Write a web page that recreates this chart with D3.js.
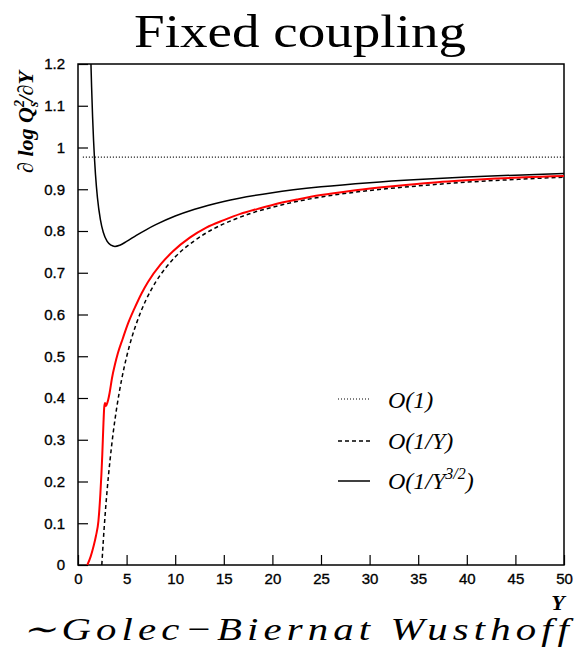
<!DOCTYPE html>
<html>
<head>
<meta charset="utf-8">
<script src="https://cdn.jsdelivr.net/npm/d3@7"></script>
<style>
  html, body { margin: 0; padding: 0; background: #fff; }
  svg { display: block; }
</style>
</head>
<body>
<svg id="chart" width="579" height="648"></svg>
<script>
// Axis ticks
const xTicks = [0, 5, 10, 15, 20, 25, 30, 35, 40, 45, 50];
const yTicks = [0, 0.1, 0.2, 0.3, 0.4, 0.5, 0.6, 0.7, 0.8, 0.9, 1, 1.1, 1.2];
const yTickLabels = ["0", "0.1", "0.2", "0.3", "0.4", "0.5", "0.6", "0.7", "0.8", "0.9", "1", "1.1", "1.2"];

// Leading-order speed O(1)
const loY = [0.5, 50];
const loVal = [0.977, 0.977];

// Next-to-leading order O(1/Y)
const nloY = [2.45, 2.6, 2.8, 3.0, 3.3, 3.6, 4.0, 4.5, 5, 5.5, 6, 7, 8, 9, 10, 12, 14, 16, 18, 20, 23, 26, 30, 35, 40, 45, 50];
const nloVal = [0.0, 0.057, 0.123, 0.180, 0.252, 0.313, 0.379, 0.4455, 0.4986, 0.542, 0.578, 0.635, 0.678, 0.711, 0.738, 0.777, 0.806, 0.827, 0.844, 0.857, 0.873, 0.885, 0.897, 0.908, 0.917, 0.9235, 0.929];

// Next-to-next-to-leading order O(1/Y^{3/2})
const nnloY = [1.333, 1.4, 1.5, 1.6, 1.8, 2.0, 2.3, 2.6, 3.0, 3.4, 3.8, 4.3, 5, 6, 7, 8, 10, 12, 15, 20, 25, 30, 35, 40, 45, 50];
const nnloVal = [1.2, 1.1445, 1.074, 1.0175, 0.935, 0.880, 0.828, 0.797, 0.775, 0.766, 0.763, 0.766, 0.775, 0.7896, 0.8029, 0.8151, 0.8358, 0.8521, 0.8708, 0.8918, 0.9058, 0.9158, 0.9233, 0.9291, 0.9338, 0.9376];

// Numerical solution (Golec-Biernat Wusthoff initial condition)
const numY = [0.96, 1.3, 1.6, 1.85, 2.1, 2.3, 2.5, 2.62, 2.7, 2.78, 2.86, 2.95, 3.1, 3.25, 3.5, 3.8, 4.1, 4.6, 5.14, 5.8, 6.55, 7.2, 8.5, 9.8, 11.5, 13.2, 15, 16.7, 18.5, 20.1, 22.7, 25, 28, 31, 34, 37, 40, 43, 46, 50];
const numVal = [0.0, 0.02, 0.045, 0.07, 0.105, 0.17, 0.265, 0.34, 0.378, 0.388, 0.381, 0.384, 0.395, 0.412, 0.448, 0.48, 0.507, 0.542, 0.578, 0.614, 0.651, 0.678, 0.72, 0.752, 0.784, 0.808, 0.826, 0.841, 0.853, 0.863, 0.876, 0.886, 0.896, 0.904, 0.911, 0.917, 0.9215, 0.9255, 0.929, 0.932];

// Legend entries
const legendLabels = ["O(1)", "O(1/Y)", "O(1/Y"];

const svg = d3.select("#chart");
const plot = { left: 78, top: 64, right: 564, bottom: 565 };

const x = d3.scaleLinear().domain([0, 50]).range([plot.left, plot.right]);
const y = d3.scaleLinear().domain([0, 1.2]).range([plot.bottom, plot.top]);

svg.append("defs").append("clipPath").attr("id", "plotClip")
  .append("rect")
  .attr("x", plot.left).attr("y", plot.top)
  .attr("width", plot.right - plot.left).attr("height", plot.bottom - plot.top);

// Title
svg.append("text")
  .attr("x", 300).attr("y", 47)
  .attr("text-anchor", "middle")
  .attr("font-family", "Liberation Serif, serif")
  .attr("font-size", 46)
  .attr("textLength", 332)
  .attr("lengthAdjust", "spacingAndGlyphs")
  .text("Fixed coupling");

// Axes (ticks pointing inward)
const tickFont = "Liberation Sans, Arial, sans-serif";
const xAxis = d3.axisBottom(x).tickValues(xTicks).tickSize(-10).tickPadding(8).tickFormat(d3.format("d"));
const yAxis = d3.axisLeft(y).tickValues(yTicks).tickSize(-10).tickPadding(13)
  .tickFormat((d, i) => yTickLabels[i]);

const gx = svg.append("g").attr("transform", `translate(0,${plot.bottom})`).call(xAxis);
const gy = svg.append("g").attr("transform", `translate(${plot.left},0)`).call(yAxis);
[gx, gy].forEach(g => {
  g.select(".domain").remove();
  g.selectAll(".tick line").attr("stroke", "#000").attr("stroke-width", 1.2);
  g.selectAll(".tick text")
    .attr("fill", "#000")
    .attr("font-family", tickFont)
    .attr("font-size", 15)
    .attr("stroke", "#000").attr("stroke-width", 0.35);
});

// Frame
svg.append("rect")
  .attr("x", plot.left).attr("y", plot.top)
  .attr("width", plot.right - plot.left).attr("height", plot.bottom - plot.top)
  .attr("fill", "none").attr("stroke", "#000").attr("stroke-width", 1.5);

const line = d3.line().x(d => x(d[0])).y(d => y(d[1])).curve(d3.curveMonotoneX);
const zipped = (xs, ys) => xs.map((v, i) => [v, ys[i]]);

const curves = svg.append("g").attr("clip-path", "url(#plotClip)");

curves.append("path")
  .datum(zipped(loY, loVal))
  .attr("d", line)
  .attr("fill", "none").attr("stroke", "#000").attr("stroke-width", 1.1)
  .attr("stroke-dasharray", "1,2");

curves.append("path")
  .datum(zipped(nloY, nloVal))
  .attr("d", line)
  .attr("fill", "none").attr("stroke", "#000").attr("stroke-width", 1.5)
  .attr("stroke-dasharray", "4,3");

curves.append("path")
  .datum(zipped(numY, numVal))
  .attr("d", line)
  .attr("fill", "none").attr("stroke", "#ff0000").attr("stroke-width", 2);

curves.append("path")
  .datum(zipped(nnloY, nnloVal))
  .attr("d", line)
  .attr("fill", "none").attr("stroke", "#000").attr("stroke-width", 1.5);

// Legend
const legendRows = [
  { yLine: 399, yText: 408, dash: "1,2", w: 1.1 },
  { yLine: 441, yText: 449, dash: "4,3", w: 1.5 },
  { yLine: 481, yText: 489, dash: null, w: 1.5 }
];
const legend = svg.append("g");
legendRows.forEach((r, i) => {
  legend.append("line")
    .attr("x1", 338).attr("x2", 370)
    .attr("y1", r.yLine).attr("y2", r.yLine)
    .attr("stroke", "#000").attr("stroke-width", r.w)
    .attr("stroke-dasharray", r.dash);
  const t = legend.append("text")
    .attr("x", 388).attr("y", r.yText)
    .attr("font-family", "Liberation Serif, serif")
    .attr("font-style", "italic")
    .attr("font-size", 24)
    .text(legendLabels[i]);
  if (i === 2) {
    t.append("tspan").attr("dy", -10).attr("font-size", 16).text("3/2");
    t.append("tspan").attr("dy", 10).text(")");
  }
});

// Y axis title
const yt = svg.append("text")
  .attr("transform", "translate(33,122) rotate(-90)")
  .attr("text-anchor", "middle")
  .attr("font-family", "Liberation Serif, serif")
  .attr("font-size", 22);
yt.append("tspan").text("\u2202 ");
yt.append("tspan").attr("font-weight", "bold").attr("font-style", "italic").text("log Q");
yt.append("tspan").attr("font-weight", "bold").attr("font-style", "italic")
  .attr("font-size", 14).attr("dy", -9).text("2");
yt.append("tspan").attr("font-weight", "bold").attr("font-style", "italic")
  .attr("font-size", 14).attr("dx", -7).attr("dy", 14).text("s");
yt.append("tspan").attr("font-weight", "bold").attr("font-style", "italic")
  .attr("dy", -5).text("/\u2202Y");

// X axis title
svg.append("text")
  .attr("x", 558).attr("y", 610)
  .attr("text-anchor", "middle")
  .attr("font-family", "Liberation Serif, serif")
  .attr("font-weight", "bold").attr("font-style", "italic")
  .attr("font-size", 22)
  .text("Y");

// Initial-condition note
svg.append("text")
  .attr("x", 22).attr("y", 640)
  .attr("font-family", "Liberation Serif, serif")
  .attr("font-style", "italic")
  .attr("font-size", 32)
  .attr("letter-spacing", 4)
  .attr("textLength", 552)
  .attr("lengthAdjust", "spacingAndGlyphs")
  .text("\u223CGolec\u2212Biernat Wusthoff");
</script>
</body>
</html>
